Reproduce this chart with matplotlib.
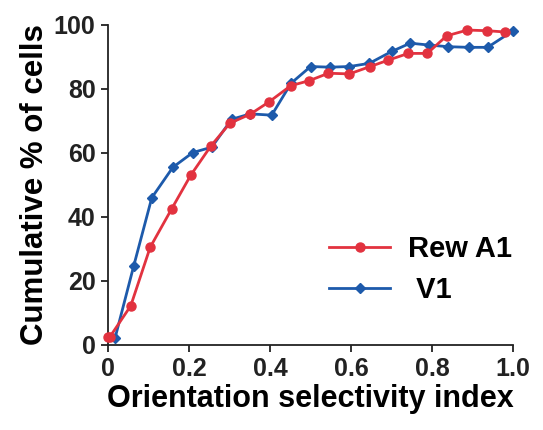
import numpy as np
import matplotlib.pyplot as plt

plt.rcParams['font.family'] = ['Liberation Sans', 'DejaVu Sans']
plt.rcParams['font.weight'] = 'bold'

# Rew A1 (red, circles)
rew_x = [0.0, 0.005, 0.056, 0.104, 0.157, 0.204, 0.254, 0.301, 0.351, 0.398,
         0.451, 0.497, 0.544, 0.596, 0.647, 0.692, 0.741, 0.788, 0.836, 0.887,
         0.935, 0.98]
rew_y = [2.5, 2.6, 12.2, 30.5, 42.5, 53.0, 62.2, 69.3, 72.1, 76.0,
         81.0, 82.6, 84.9, 84.7, 87.0, 89.0, 91.1, 91.1, 96.6, 98.4,
         98.2, 97.8]

# V1 (blue, diamonds)
v1_x = [0.017, 0.063, 0.108, 0.16, 0.209, 0.256, 0.305, 0.351, 0.404,
        0.452, 0.5, 0.548, 0.596, 0.645, 0.70, 0.746, 0.793, 0.84, 0.89,
        0.937, 1.0]
v1_y = [2.0, 24.5, 46.0, 55.5, 60.1, 61.8, 70.5, 72.2, 71.8,
        81.8, 87.0, 86.8, 87.0, 88.0, 91.7, 94.3, 93.7, 93.2, 93.0,
        93.0, 98.2]

red = '#e2323f'
blue = '#1d5aab'

fig = plt.figure(figsize=(5.43, 4.30), dpi=100)
ax = fig.add_axes([0.199, 0.198, 0.746, 0.744])

ax.plot(rew_x, rew_y, color=red, lw=2, marker='o', ms=6.5, label='Rew A1', clip_on=False, zorder=3)
ax.plot(v1_x, v1_y, color=blue, lw=2, marker='D', ms=5.5, label=' V1', clip_on=False, zorder=2)

ax.set_xlim(0, 1.0)
ax.set_ylim(0, 100)
ax.set_xticks([0, 0.2, 0.4, 0.6, 0.8, 1.0])
ax.set_xticklabels(['0', '0.2', '0.4', '0.6', '0.8', '1.0'])
ax.set_yticks([0, 20, 40, 60, 80, 100])

for s in ['top', 'right']:
    ax.spines[s].set_visible(False)
for s in ['left', 'bottom']:
    ax.spines[s].set_linewidth(1.3)
    ax.spines[s].set_color('#222222')
ax.tick_params(direction='out', length=5, width=1.3, labelsize=18, colors='#222222', pad=4)

ax.set_xlabel('Orientation selectivity index', fontsize=22, fontweight='bold', labelpad=2)
ax.set_ylabel('Cumulative % of cells', fontsize=22.5, fontweight='bold', labelpad=3)

ax.legend(loc='center left', bbox_to_anchor=(0.558, 0.373), bbox_transform=fig.transFigure,
          frameon=False, fontsize=21, handlelength=2.1, handletextpad=0.6, labelspacing=0.42)

plt.savefig('out.png', dpi=100)
